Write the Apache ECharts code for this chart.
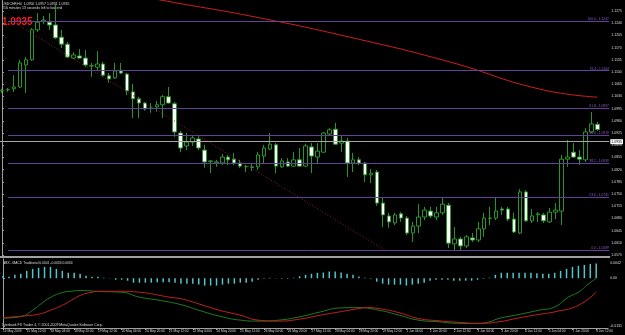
<!DOCTYPE html>
<html>
<head>
<meta charset="utf-8">
<script src="https://cdn.jsdelivr.net/npm/echarts@6/dist/echarts.min.js"></script>
<style>
html, body { margin: 0; padding: 0; background: #000; }
#chart { width: 625px; height: 335px; }
</style>
</head>
<body>
<div id="chart"></div>
<script>
// USDCHF H4, 14 May - 8 Jun 2009 (one candle per 4 hours)
const timeLabels = ['14 May 2009', '15 May 12:00', '18 May 04:00', '18 May 20:00', '19 May 12:00',
  '20 May 04:00', '20 May 20:00', '21 May 12:00', '22 May 04:00', '24 May 20:00', '25 May 12:00',
  '26 May 04:00', '26 May 20:00', '27 May 12:00', '28 May 04:00', '28 May 20:00', '29 May 12:00',
  '1 Jun 04:00', '1 Jun 20:00', '2 Jun 12:00', '3 Jun 04:00', '3 Jun 20:00', '4 Jun 12:00',
  '5 Jun 04:00', '7 Jun 20:00', '8 Jun 12:00'];
const labelBars = [0, 4, 8, 12, 16, 20, 24, 28, 32, 36, 40, 44, 48, 52, 56, 60, 64, 68, 72, 76, 80, 84, 88, 92, 96, 100];

const opens = [1.1046, 1.1049, 1.1052, 1.1057, 1.1120, 1.1135, 1.1221, 1.1246, 1.1243, 1.1235,
  1.1200, 1.1180, 1.1140, 1.1146, 1.1140, 1.1117, 1.1114, 1.1123, 1.1089, 1.1083,
  1.1103, 1.1094, 1.1043, 1.1023, 1.1011, 1.0995, 1.1000, 1.1006, 1.1029, 1.1009,
  1.0925, 1.0888, 1.0899, 1.0908, 1.0876, 1.0843, 1.0839, 1.0839, 1.0856, 1.0850,
  1.0839, 1.0828, 1.0826, 1.0828, 1.0859, 1.0879, 1.0891, 1.0828, 1.0842, 1.0830,
  1.0848, 1.0830, 1.0885, 1.0856, 1.0870, 1.0922, 1.0936, 1.0896, 1.0902, 1.0839,
  1.0848, 1.0839, 1.0805, 1.0813, 1.0724, 1.0687, 1.0667, 1.0693, 1.0681, 1.0638,
  1.0658, 1.0684, 1.0701, 1.0684, 1.0696, 1.0718, 1.0607, 1.0621, 1.0601, 1.0624,
  1.0618, 1.0650, 1.0680, 1.0681, 1.0707, 1.0707, 1.0678, 1.0638, 1.0756, 1.0673,
  1.0691, 1.0690, 1.0670, 1.0698, 1.0701, 1.0850, 1.0870, 1.0856, 1.0848, 1.0928,
  1.0950];
const highs = [1.1052, 1.1054, 1.1091, 1.1135, 1.1143, 1.1226, 1.1269, 1.1261, 1.1269, 1.1295,
  1.1221, 1.1186, 1.1157, 1.1166, 1.1163, 1.1126, 1.1160, 1.1129, 1.1097, 1.1126,
  1.1126, 1.1097, 1.1066, 1.1029, 1.1014, 1.1011, 1.1017, 1.1034, 1.1057, 1.1014,
  1.0931, 1.0925, 1.0919, 1.0916, 1.0891, 1.0848, 1.0848, 1.0865, 1.0862, 1.0868,
  1.0848, 1.0833, 1.0839, 1.0871, 1.0891, 1.0925, 1.0896, 1.0853, 1.0853, 1.0871,
  1.0882, 1.0894, 1.0896, 1.0896, 1.0928, 1.0939, 1.0954, 1.0919, 1.0911, 1.0868,
  1.0856, 1.0842, 1.0822, 1.0819, 1.0739, 1.0696, 1.0696, 1.0698, 1.0687, 1.0670,
  1.0721, 1.0713, 1.0713, 1.0713, 1.0739, 1.0724, 1.0655, 1.0627, 1.0632, 1.0638,
  1.0670, 1.0696, 1.0713, 1.0741, 1.0713, 1.0713, 1.0696, 1.0764, 1.0761, 1.0707,
  1.0698, 1.0696, 1.0710, 1.0724, 1.0862, 1.0905, 1.0896, 1.0876, 1.0939, 1.0985,
  1.0957];
const lows = [1.1040, 1.1043, 1.1043, 1.1054, 1.1040, 1.1132, 1.1215, 1.1238, 1.1221, 1.1195,
  1.1169, 1.1140, 1.1137, 1.1139, 1.1114, 1.1086, 1.1106, 1.1086, 1.1069, 1.1080,
  1.1094, 1.1034, 1.0968, 1.0968, 1.0989, 1.0983, 1.0986, 1.0968, 1.1009, 1.0914,
  1.0870, 1.0876, 1.0888, 1.0876, 1.0825, 1.0810, 1.0828, 1.0833, 1.0833, 1.0833,
  1.0825, 1.0813, 1.0816, 1.0819, 1.0839, 1.0876, 1.0810, 1.0825, 1.0828, 1.0828,
  1.0828, 1.0828, 1.0810, 1.0839, 1.0868, 1.0919, 1.0891, 1.0871, 1.0799, 1.0813,
  1.0833, 1.0784, 1.0781, 1.0716, 1.0655, 1.0653, 1.0661, 1.0670, 1.0632, 1.0612,
  1.0638, 1.0675, 1.0681, 1.0675, 1.0690, 1.0595, 1.0589, 1.0589, 1.0595, 1.0612,
  1.0612, 1.0627, 1.0661, 1.0675, 1.0690, 1.0672, 1.0638, 1.0635, 1.0670, 1.0667,
  1.0670, 1.0667, 1.0667, 1.0678, 1.0661, 1.0828, 1.0853, 1.0833, 1.0842, 1.0925,
  1.0931];
const closes = [1.1047, 1.1050, 1.1057, 1.1126, 1.1135, 1.1221, 1.1243, 1.1249, 1.1235, 1.1198,
  1.1180, 1.1143, 1.1149, 1.1140, 1.1120, 1.1118, 1.1123, 1.1091, 1.1080, 1.1103,
  1.1097, 1.1046, 1.1023, 1.1011, 1.0994, 1.0997, 1.1006, 1.1029, 1.1011, 1.0928,
  1.0882, 1.0899, 1.0911, 1.0882, 1.0842, 1.0845, 1.0842, 1.0856, 1.0848, 1.0839,
  1.0830, 1.0829, 1.0828, 1.0862, 1.0882, 1.0893, 1.0830, 1.0845, 1.0830, 1.0848,
  1.0830, 1.0888, 1.0859, 1.0873, 1.0925, 1.0934, 1.0893, 1.0902, 1.0839, 1.0848,
  1.0839, 1.0805, 1.0810, 1.0724, 1.0690, 1.0670, 1.0690, 1.0681, 1.0638, 1.0658,
  1.0684, 1.0704, 1.0687, 1.0696, 1.0721, 1.0609, 1.0621, 1.0601, 1.0627, 1.0618,
  1.0650, 1.0681, 1.0681, 1.0701, 1.0704, 1.0678, 1.0641, 1.0756, 1.0673, 1.0687,
  1.0693, 1.0673, 1.0698, 1.0704, 1.0850, 1.0856, 1.0856, 1.0850, 1.0928, 1.0951,
  1.0935];

// moving average (red curve), read at a few bars: [bar, price]
const maPoints = [[24, 1.1318], [26.5, 1.1307], [41.6, 1.1261], [58.4, 1.1200], [75.2, 1.1129],
  [90.3, 1.1051], [100, 1.1028]];
// dotted trend line: [bar, price]
const trendLine = [[2.7, 1.1235], [64.5, 1.0587]];

// fibonacci levels
const fibNames = ['100.0', '76.4', '61.8', '50.0', '38.2', '23.6', '0.0'];
const fibPrices = [1.1247, 1.1104, 1.0997, 1.0919, 1.0839, 1.0741, 1.0589];
const lastPrice = 1.0935;
const priceTicks = [1.1275, 1.1240, 1.1205, 1.1170, 1.1135, 1.1100, 1.1065, 1.1030, 1.0995, 1.0960,
  1.0925, 1.0890, 1.0855, 1.0820, 1.0785, 1.0750, 1.0715, 1.0680, 1.0645, 1.0610, 1.0575];

// MACD panel
const macdHist = [0.00068, 0.00041, 0.00095, 0.00122, 0.00203, 0.00257, 0.00285, 0.00312, 0.00312, 0.00257,
  0.00203, 0.00149, 0.00149, 0.00122, 0.00068, 0.00041, 0.00041, 0.00014, 0.00005, -0.00041,
  -0.00041, -0.00068, -0.00122, -0.00122, -0.00122, -0.00122, -0.00108, -0.00108, -0.00108, -0.00122,
  -0.00149, -0.00149, -0.00149, -0.00176, -0.00203, -0.00203, -0.00203, -0.00176, -0.00149, -0.00149,
  -0.00122, -0.00122, -0.00095, -0.00041, -0.00014, 0.00014, 0.00005, -0.00014, -0.00014, 0.00014,
  0.00054, 0.00095, 0.00122, 0.00149, 0.00157, 0.00184, 0.00184, 0.00157, 0.00122, 0.00095,
  0.00049, 0.00014, -0.00014, -0.00095, -0.00149, -0.00176, -0.00176, -0.00176, -0.00203, -0.00176,
  -0.00149, -0.00122, -0.00068, -0.00041, -0.00041, -0.00041, -0.00068, -0.00068, -0.00068, -0.00068,
  -0.00041, -0.00014, 0.00014, 0.00095, 0.00149, 0.00149, 0.00149, 0.00149, 0.00149, 0.00149,
  0.00135, 0.00122, 0.00122, 0.00149, 0.00203, 0.00257, 0.00312, 0.00339, 0.00366, 0.00393,
  0.00407];
const macdMain = [[0, -0.01098], [3, -0.01057], [5, -0.00881], [6.5, -0.00691], [8, -0.00528],
  [10, -0.00393], [11.5, -0.00358], [13, -0.00339], [16.5, -0.00366], [20, -0.00385],
  [23, -0.00520], [26.5, -0.00610], [30, -0.00726], [33, -0.00881], [36.5, -0.01043],
  [40, -0.01152], [43, -0.01179], [46.5, -0.01152], [50, -0.01062], [53.5, -0.00927],
  [56.7, -0.00818], [60, -0.00808], [63.4, -0.00881], [66.8, -0.01016], [70, -0.01152],
  [73.5, -0.01198], [77, -0.01241], [80, -0.01241], [82, -0.01198], [83.6, -0.01106],
  [87, -0.00997], [90.3, -0.00881], [93, -0.00791], [95.3, -0.00520], [97, -0.00385],
  [98.7, -0.00157], [100, -0.00005]];
const macdSignal = [[0, -0.01089], [3, -0.01043], [5, -0.01016], [6.5, -0.00970], [8, -0.00881],
  [10, -0.00745], [11.5, -0.00610], [13, -0.00474], [15, -0.00385], [16.5, -0.00358],
  [20, -0.00358], [23, -0.00385], [25, -0.00428], [26.5, -0.00474], [28, -0.00520],
  [30, -0.00564], [31.5, -0.00629], [33, -0.00705], [36.5, -0.00881], [40, -0.01016],
  [43, -0.01152], [46.5, -0.01179], [50, -0.01125], [53.5, -0.01016], [56.7, -0.00927],
  [60, -0.00835], [61.5, -0.00808], [63.4, -0.00835], [66.8, -0.00949], [70, -0.01106],
  [73.5, -0.01171], [77, -0.01214], [80, -0.01241], [83.6, -0.01198], [87, -0.01089],
  [90.3, -0.00997], [93.5, -0.00908], [97, -0.00745], [100, -0.00385]];
const macdTicks = [0.0042, 0, -0.0131];
const macdTickText = ['0.0042', '0.00', '-0.0131'];

const candles = opens.map((o, i) => [i, o, closes[i], lows[i], highs[i]]);

const GREEN = '#2a962a';
const FIB = '#63409a';
const AXIS = '#a0a0a0';
const TXT = '#dcdcdc';
const FONT = 'Liberation Sans';

const chart = echarts.init(document.getElementById('chart'), null, { renderer: 'canvas' });

// x: bar index, bar 0 sits 2px from the left edge, bar 100 at 598px
const xMin = -0.3356, xMax = 102.01;

const option = {
  backgroundColor: '#000',
  animation: false,
  textStyle: { fontFamily: FONT },
  grid: [
    { left: 0, right: 15, top: 0, height: 257 },
    { left: 0, right: 15, top: 259, height: 69 }
  ],
  xAxis: [
    {
      type: 'value', gridIndex: 0, min: xMin, max: xMax,
      axisLine: { show: true, onZero: false, lineStyle: { color: AXIS, width: 2 } },
      axisTick: { show: false }, axisLabel: { show: false }, splitLine: { show: false }
    },
    {
      type: 'value', gridIndex: 1, min: xMin, max: xMax,
      axisLine: { show: true, onZero: false, lineStyle: { color: AXIS } },
      axisTick: { show: true, customValues: labelBars, length: 2, lineStyle: { color: AXIS } },
      axisLabel: {
        customValues: labelBars, color: TXT, fontSize: 3.2, align: 'left', margin: 2,
        formatter: v => timeLabels[labelBars.indexOf(v)]
      },
      splitLine: { show: false }
    }
  ],
  yAxis: [
    {
      type: 'value', gridIndex: 0, position: 'right', min: 1.056926, max: 1.13066, scale: true,
      axisLine: { show: true, lineStyle: { color: AXIS } },
      axisTick: { show: true, customValues: priceTicks, length: 2, lineStyle: { color: AXIS } },
      axisLabel: { customValues: priceTicks, color: TXT, fontSize: 3.5, margin: 2, formatter: v => v.toFixed(4) },
      splitLine: { show: false }
    },
    {
      type: 'value', gridIndex: 1, position: 'right', min: -0.013686, max: 0.005285, scale: true,
      axisLine: { show: true, lineStyle: { color: AXIS } },
      axisTick: { show: true, customValues: macdTicks, length: 2, lineStyle: { color: AXIS } },
      axisLabel: {
        customValues: macdTicks, color: TXT, fontSize: 3.5, margin: 2,
        formatter: v => macdTickText[macdTicks.indexOf(v)]
      },
      splitLine: { show: false }
    }
  ],
  series: [
    {
      name: 'USDCHF', type: 'candlestick', xAxisIndex: 0, yAxisIndex: 0,
      barWidth: 4,
      itemStyle: { color: '#000', color0: '#fff', borderColor: GREEN, borderColor0: GREEN, borderWidth: 1 },
      data: candles,
      markLine: {
        silent: true, symbol: 'none', animation: false,
        data: [
          ...fibPrices.map((p, i) => [
            {
              coord: [1, p],
              lineStyle: { color: FIB, width: 1, type: 'solid' },
              label: {
                show: true, position: 'insideEndTop', distance: 0.5, color: '#8a5cc8', fontSize: 3.3,
                formatter: fibNames[i] + ' - ' + p.toFixed(4)
              }
            },
            { coord: [xMax, p] }
          ]),
          {
            yAxis: lastPrice,
            lineStyle: { color: '#a6a6a6', width: 1, type: 'solid' },
            label: {
              show: true, position: 'end', distance: 1, color: '#000', backgroundColor: '#fff',
              padding: [0.5, 1], fontSize: 3.5, formatter: lastPrice.toFixed(4)
            }
          }
        ]
      }
    },
    {
      name: 'MA', type: 'line', xAxisIndex: 0, yAxisIndex: 0, data: maPoints,
      smooth: true, showSymbol: false, clip: true,
      lineStyle: { color: '#d01e1e', width: 1 }
    },
    {
      name: 'trend', type: 'line', xAxisIndex: 0, yAxisIndex: 0, data: trendLine,
      showSymbol: false, lineStyle: { color: '#8c2222', width: 1, type: [1, 2] }
    },
    {
      name: 'hist', type: 'bar', xAxisIndex: 1, yAxisIndex: 1,
      data: macdHist.map((v, i) => [i, v]), barWidth: 1.5,
      itemStyle: { color: '#55c4c8' }
    },
    {
      name: 'macd', type: 'line', xAxisIndex: 1, yAxisIndex: 1, data: macdMain,
      smooth: true, showSymbol: false, lineStyle: { color: '#1d7f1d', width: 1 }
    },
    {
      name: 'signal', type: 'line', xAxisIndex: 1, yAxisIndex: 1, data: macdSignal,
      smooth: true, showSymbol: false, lineStyle: { color: '#c42020', width: 1 }
    }
  ],
  graphic: [
    { type: 'text', left: 2, top: 2, style: { text: 'USDCHF,H4  1.0950 1.0957 1.0931 1.0935', fill: TXT, fontSize: 3.5, fontFamily: FONT } },
    { type: 'text', left: 2, top: 6, style: { text: '216 minutes 13 seconds left to bar end', fill: TXT, fontSize: 3.5, fontFamily: FONT } },
    { type: 'text', left: 2, top: 17, style: { text: lastPrice.toFixed(4), fill: '#ff1a1a', fontSize: 10, fontWeight: 'bold', fontFamily: FONT } },
    { type: 'text', left: 3, top: 261.5, style: { text: 'BBX - MACD Traditional 0.0001 -0.0034 0.0034', fill: TXT, fontSize: 3.3, fontFamily: FONT } },
    { type: 'text', left: 2, top: 323.5, style: { text: 'Interbank FX Trader 4, \u00a9 2001-2009 MetaQuotes Software Corp.', fill: TXT, fontSize: 3.5, fontFamily: FONT } }
  ]
};

chart.setOption(option);
window.addEventListener('resize', chart.resize);
</script>
</body>
</html>
